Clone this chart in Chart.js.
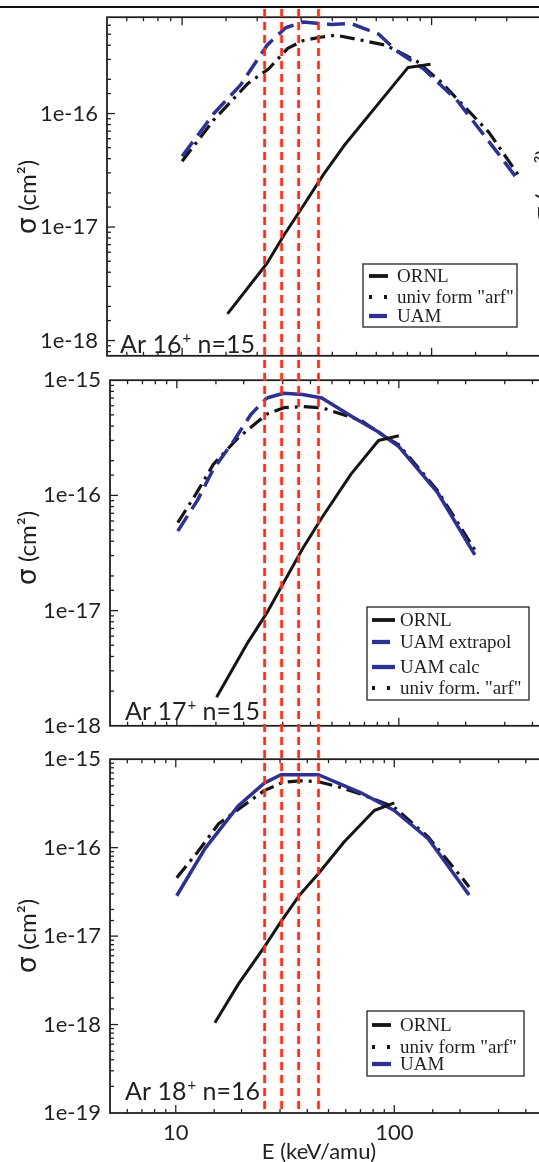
<!DOCTYPE html>
<html>
<head>
<meta charset="utf-8">
<script src="https://cdn.jsdelivr.net/npm/chart.js@4.4.0/dist/chart.umd.min.js"></script>
<style>
html,body{margin:0;padding:0;background:#fff;}
#fig{position:relative;width:539px;height:1162px;overflow:hidden;background:#fff;}
#fig canvas{position:absolute;left:0;}
#topline{position:absolute;left:0;top:6px;width:539px;height:2px;background:#111;}
</style>
</head>
<body>
<div id="fig">
  <canvas id="p1"></canvas>
  <canvas id="p2"></canvas>
  <canvas id="p3"></canvas>
  <canvas id="guides" width="539" height="1162" style="top:0"></canvas>
  <div id="topline"></div>
</div>
<script>
// ---- values (E in keV/amu, sigma in cm2) ----
const xTickLabels=[10,100];
const guideE=[25.5,30.5,36.5,45];   // red dashed guide lines

// Ar 16+ n=15
const e16ORNL=[15.2,21.9,25.7,30.6,37,44.7,59.6,80.5,99];
const s16ORNL=[1.72e-18,4.8e-18,8.6e-18,1.54e-17,2.94e-17,5.25e-17,1.14e-16,2.55e-16,2.72e-16];
const e16Arf=[10,13.4,18.4,22.2,26.5,30.6,35.8,41.3,49.2,65.6,87,109,170,222];
const s16Arf=[3.8e-17,8.8e-17,1.85e-16,2.47e-16,3.75e-16,4.4e-16,4.7e-16,4.9e-16,4.55e-16,4.0e-16,2.9e-16,1.9e-16,6.8e-17,2.9e-17];
const e16UAM=[10,13.4,17.2,21.9,26,30.6,39.4,47.6,61.4,72,93,127,187,225];
const s16UAM=[4.2e-17,1.0e-16,1.8e-16,4.0e-16,5.7e-16,6.4e-16,6.1e-16,6.2e-16,5.0e-16,3.6e-16,2.47e-16,1.29e-16,4.3e-17,2.5e-17];

// Ar 17+ n=15
const e17ORNL=[15.1,20.9,25.4,30.3,36.9,45,60.9,81,100];
const s17ORNL=[1.77e-18,5.3e-18,9.5e-18,1.75e-17,3.46e-17,6.4e-17,1.53e-16,3.0e-16,3.3e-16];
const e17Ext=[10.1,12.4,14.6,18.1,21.6,25.4];
const s17Ext=[4.9e-17,9.1e-17,1.69e-16,3.0e-16,5.07e-16,7.0e-16];
const e17Calc=[25.4,30.3,36.9,45,60.9,81,100,149,220];
const s17Calc=[7.0e-16,7.7e-16,7.5e-16,7.0e-16,4.9e-16,3.55e-16,2.65e-16,1.07e-16,3.05e-17];
const e17Arf=[10.1,12.2,14.6,18.8,25.4,30.3,36.9,45,67.7,87.1,100,149,220];
const s17Arf=[5.8e-17,1.03e-16,1.86e-16,3.13e-16,5.07e-16,5.77e-16,5.9e-16,5.77e-16,4.46e-16,3.22e-16,2.74e-16,1.11e-16,3.36e-17];

// Ar 18+ n=16
const e18ORNL=[15.1,19.4,25.4,30.3,36.9,45,58.9,81,100];
const s18ORNL=[1.05e-18,2.9e-18,7.5e-18,1.46e-17,2.92e-17,5.1e-17,1.16e-16,2.63e-16,3.2e-16];
const e18Arf=[10.1,12.6,15.7,20.9,25.4,30.9,36.9,45,56.7,70,100,143,205,220];
const s18Arf=[4.57e-17,8.95e-17,1.86e-16,3.12e-16,4.41e-16,5.47e-16,5.7e-16,5.57e-16,4.8e-16,4.05e-16,2.86e-16,1.32e-16,4.5e-17,3.6e-17];
const e18UAM=[10.1,13.6,19.4,25.4,30.3,36.9,45,56.7,70,100,143,220];
const s18UAM=[2.86e-17,9.75e-17,3.0e-16,5.37e-16,6.67e-16,6.67e-16,6.67e-16,5.24e-16,4.2e-16,2.63e-16,1.26e-16,2.92e-17];

// ---- line styles ----
const BLK='#151515', BLU='#2e3192';
const styles={
  ornl:{color:BLK,w:3,dash:[],order:1},
  arf:{color:BLK,w:3.2,dash:[15,6,3,6],order:3,legendDash:[3,12]},
  uamDash:{color:BLU,w:3.5,dash:[18,8],order:2},
  uam:{color:BLU,w:3.5,dash:[],order:2}
};

// ---- panel layout (page pixels) ----
const panels=[
  {id:'p1',top:-5,w:606,padTop:14,plotH:355,xH:14,yMin:7.34e-19,yMax:7.06e-16,showX:false,
   tag:['Ar 16','+',' n=15'],tagX:120,tagY:353,yTitleY:197,sideLabel:true,
   legend:{x:363,y:264,w:154,h:63,rows:[276,297,316],sx:369,ex:388,tx:397},
   sets:[['ORNL',e16ORNL,s16ORNL,'ornl'],['univ form "arf"',e16Arf,s16Arf,'arf'],['UAM',e16UAM,s16UAM,'uamDash']]},
  {id:'p2',top:358,w:554,padTop:20,plotH:356,xH:14,yMin:1e-18,yMax:1e-15,showX:false,
   tag:['Ar 17','+',' n=15'],tagX:125,tagY:720,yTitleY:548,
   legend:{x:367,y:607,w:162,h:93,rows:[620,642,667,688],sx:372,ex:395,tx:400},
   sets:[['ORNL',e17ORNL,s17ORNL,'ornl'],['UAM extrapol',e17Ext,s17Ext,'uamDash'],['UAM calc',e17Calc,s17Calc,'uam'],['univ form. "arf"',e17Arf,s17Arf,'arf']]},
  {id:'p3',top:737,w:554,padTop:20,plotH:356,xH:50,yMin:1e-19,yMax:1e-15,showX:true,
   tag:['Ar 18','+',' n=16'],tagX:125,tagY:1100,yTitleY:936,xTitle:'E (keV/amu)',xTitleX:319,xTitleY:1152,
   legend:{x:367,y:1011,w:157,h:65,rows:[1025,1047,1064],sx:372,ex:391,tx:400},
   sets:[['ORNL',e18ORNL,s18ORNL,'ornl'],['univ form "arf"',e18Arf,s18Arf,'arf'],['UAM',e18UAM,s18UAM,'uam']]}
];

const SANS='Lato, "Open Sans", sans-serif';
const INK='#231f20';

function isDecade(v){ const l=Math.log10(v); return Math.abs(l-Math.round(l))<1e-6; }

// rotated "σ (cm²)" with a larger sigma, centred on (cx, cy)
function sigmaTitle(ctx,cx,cy){
  ctx.save();
  ctx.translate(cx,cy);
  ctx.rotate(-Math.PI/2);
  ctx.textAlign='left';
  ctx.textBaseline='alphabetic';
  ctx.font='27px "DejaVu Sans", sans-serif';
  const w1=ctx.measureText('σ').width;
  ctx.font='24px '+SANS;
  const w2=ctx.measureText('(cm²)').width;
  const gap=6, x0=-(w1+gap+w2)/2;
  ctx.font='27px "DejaVu Sans", sans-serif';
  ctx.fillText('σ',x0,8);
  ctx.font='24px '+SANS;
  ctx.fillText('(cm²)',x0+w1+gap,8);
  ctx.restore();
}

// frame, inward ticks, legend box and labels
function makeDeco(p){
  return {
    id:'deco',
    afterDraw(chart){
      const {ctx,chartArea:a,scales:{x,y}}=chart;
      const oy=-p.top;
      ctx.save();
      ctx.strokeStyle=INK;
      ctx.lineWidth=1.8;
      ctx.strokeRect(a.left,a.top,a.right-a.left,a.bottom-a.top);

      ctx.lineWidth=1.3;
      const seg=(x0,y0,x1,y1)=>{ ctx.beginPath(); ctx.moveTo(x0,y0); ctx.lineTo(x1,y1); ctx.stroke(); };
      x.ticks.forEach(t=>{
        const px=x.getPixelForValue(t.value);
        if(px<a.left+2||px>a.right-2) return;
        const L=isDecade(t.value)?8:4;
        seg(px,a.bottom,px,a.bottom-L);
        seg(px,a.top,px,a.top+L);
      });
      y.ticks.forEach(t=>{
        const py=y.getPixelForValue(t.value);
        if(py<a.top+2||py>a.bottom-2) return;
        const L=isDecade(t.value)?8:4;
        seg(a.left,py,a.left+L,py);
      });

      // legend
      const lg=p.legend;
      ctx.fillStyle='#fff';
      ctx.fillRect(lg.x,lg.y+oy,lg.w,lg.h);
      ctx.strokeStyle='#333';
      ctx.lineWidth=1.4;
      ctx.strokeRect(lg.x,lg.y+oy,lg.w,lg.h);
      ctx.font='19px "Liberation Serif", serif';
      ctx.textBaseline='middle';
      ctx.textAlign='left';
      chart.data.datasets.forEach((ds,i)=>{
        const ry=lg.rows[i]+oy;
        ctx.strokeStyle=ds.borderColor;
        ctx.lineWidth=ds.borderWidth+0.8;
        ctx.setLineDash(ds.legendDash||ds.borderDash);
        seg(lg.sx,ry,lg.ex,ry);
        ctx.setLineDash([]);
        ctx.fillStyle=INK;
        ctx.fillText(ds.label,lg.tx,ry+1);
      });

      // panel tag, e.g. Ar 16+ n=15
      ctx.fillStyle=INK;
      ctx.textBaseline='alphabetic';
      ctx.font='25px '+SANS;
      let tx=p.tagX;
      ctx.fillText(p.tag[0],tx,p.tagY+oy); tx+=ctx.measureText(p.tag[0]).width+1;
      ctx.font='15px '+SANS;
      ctx.fillText(p.tag[1],tx,p.tagY+oy-10); tx+=ctx.measureText(p.tag[1]).width;
      ctx.font='25px '+SANS;
      ctx.fillText(p.tag[2],tx,p.tagY+oy);

      // axis titles
      sigmaTitle(ctx,28,p.yTitleY+oy);
      if(p.sideLabel) sigmaTitle(ctx,545,186+oy); // edge of the neighbouring panel's axis title
      if(p.xTitle){
        ctx.font='22px '+SANS;
        ctx.textAlign='center';
        ctx.textBaseline='middle';
        ctx.fillText(p.xTitle,p.xTitleX,p.xTitleY+oy);
      }
      ctx.restore();
    }
  };
}

const charts=panels.map(p=>{
  const cv=document.getElementById(p.id);
  cv.width=p.w;
  cv.height=p.padTop+p.plotH+p.xH;
  cv.style.top=p.top+'px';
  const datasets=p.sets.map(([label,es,ss,st])=>{
    const s=styles[st];
    return {label,data:es.map((e,i)=>({x:e,y:ss[i]})),borderColor:s.color,borderWidth:s.w,
      borderDash:s.dash,legendDash:s.legendDash,order:s.order,pointRadius:0,fill:false,tension:0,
      borderCapStyle:'butt',borderJoinStyle:'round'};
  });
  return new Chart(cv,{
    type:'line',
    data:{datasets},
    options:{
      responsive:false,animation:false,
      layout:{padding:{top:p.padTop,left:0,right:0,bottom:0}},
      plugins:{legend:{display:false},tooltip:{enabled:false}},
      scales:{
        x:{type:'logarithmic',min:5,max:500,
          grid:{display:false,drawTicks:false},border:{display:false},
          ticks:{display:p.showX,autoSkip:false,maxRotation:0,padding:7,color:INK,font:{family:SANS,size:22},
            callback:v=>xTickLabels.includes(v)?String(v):''},
          afterFit:s=>{s.height=p.xH;}},
        y:{type:'logarithmic',min:p.yMin,max:p.yMax,
          grid:{display:false,drawTicks:false},border:{display:false},
          ticks:{autoSkip:false,padding:9,color:INK,font:{family:SANS,size:22},
            callback:v=>isDecade(v)?'1e'+Math.round(Math.log10(v)):''},
          afterFit:s=>{s.width=p.id==='p1'?107:110;}}
      }
    },
    plugins:[makeDeco(p)]
  });
});

// red dashed guides run through all three panels, placed with the bottom panel's x scale
const g=document.getElementById('guides').getContext('2d');
const sx=charts[2].scales.x;
g.strokeStyle='#f2321c';
g.lineWidth=2.6;
g.setLineDash([8,5]);
g.shadowColor='rgba(255,90,70,0.45)';
g.shadowBlur=3;
guideE.forEach(e=>{
  const px=sx.getPixelForValue(e);
  g.beginPath(); g.moveTo(px,9); g.lineTo(px,1113); g.stroke();
});
</script>
</body>
</html>
